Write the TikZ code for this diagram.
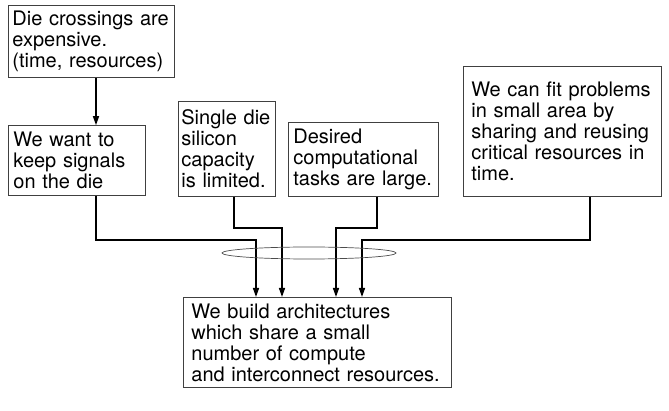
\documentclass[tikz,border=0pt]{standalone}
\usepackage{fontspec}
\setmainfont{TeX Gyre Heros}
\usetikzlibrary{arrows.meta}

\begin{document}
\begin{tikzpicture}[x=1pt,y=-1pt,
  box/.style={draw=black!75,line width=0.8pt,align=left,inner xsep=5pt,inner ysep=4pt,font=\fontsize{20}{21}\selectfont},
  link/.style={line width=1.4pt,-{Triangle[length=9pt,width=6pt]}},
  bus/.style={draw=black!70,line width=0.7pt}]
\useasboundingbox (0,0) rectangle (669,411);
\node[box,anchor=north west,text width=158pt,minimum height=72pt,inner xsep=4pt] (cross) at (8,5) {Die crossings are\\expensive.\\(time, resources)};
\node[box,anchor=south west,text width=127pt,minimum height=70pt] (keep) at (8,196) {We want to\\keep signals\\on the die};
\node[box,anchor=south west,text width=91pt,minimum height=95pt,inner xsep=3pt] (die) at (178,197) {Single die\\silicon\\capacity\\is limited.};
\node[box,anchor=south west,text width=140pt,minimum height=74pt] (tasks) at (288,197) {Desired\\computational\\tasks are large.};
\node[box,anchor=south west,text width=182pt,minimum height=130pt,inner xsep=8pt] (fit) at (463,197) {We can fit problems\\in small area by\\sharing and reusing\\critical resources in\\time.};
\node[box,anchor=north west,text width=252pt,minimum height=90pt,inner xsep=8pt] (arch) at (183,297) {We build architectures\\which share a small\\number of compute\\and interconnect resources.};
\coordinate (dropA) at ([xshift=88pt]cross.south west);
\coordinate (dropB) at ([xshift=88pt]keep.south west);
\coordinate (dropC) at ([xshift=56pt]die.south west);
\coordinate (dropD) at ([xshift=89pt]tasks.south west);
\coordinate (dropE) at ([xshift=127pt]fit.south west);
\coordinate (inA) at ([xshift=73pt]arch.north west);
\coordinate (inB) at ([xshift=99pt]arch.north west);
\coordinate (inC) at ([xshift=153pt]arch.north west);
\coordinate (inD) at ([xshift=179pt]arch.north west);
\draw[link] (dropA) -- (dropA |- keep.north);
\draw[link] (dropB) |- ([yshift=57pt]inA) -- (inA);
\draw[link] (dropC) |- ([yshift=69pt]inB) -- (inB);
\draw[link] (dropD) |- ([yshift=69pt]inC) -- (inC);
\draw[link] (dropE) |- ([yshift=57pt]inD) -- (inD);
\draw[bus] (309,253) ellipse [x radius=87pt,y radius=6pt];
\end{tikzpicture}
\end{document}
